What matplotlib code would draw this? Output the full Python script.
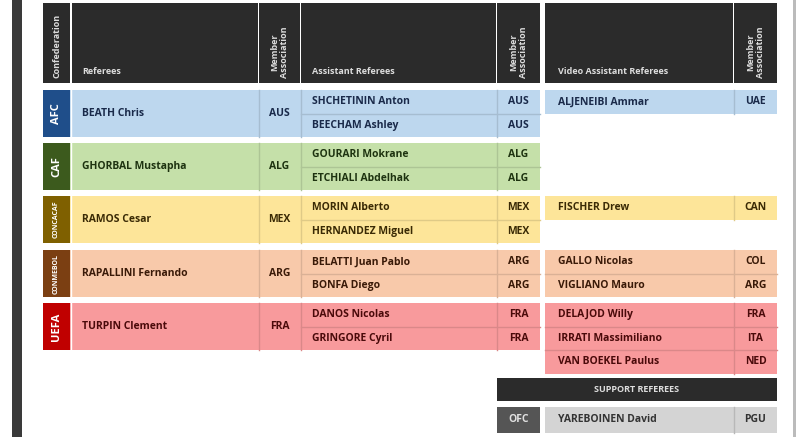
import matplotlib
matplotlib.use("Agg")
import matplotlib.pyplot as plt
from matplotlib.patches import Rectangle
import matplotlib.colors as mc

confeds = ["AFC", "CAF", "CONCACAF", "CONMEBOL", "UEFA"]
referees = ["BEATH Chris", "GHORBAL Mustapha", "RAMOS Cesar", "RAPALLINI Fernando", "TURPIN Clement"]
referee_ma = ["AUS", "ALG", "MEX", "ARG", "FRA"]
assistants = [["SHCHETININ Anton", "BEECHAM Ashley"], ["GOURARI Mokrane", "ETCHIALI Abdelhak"],
              ["MORIN Alberto", "HERNANDEZ Miguel"], ["BELATTI Juan Pablo", "BONFA Diego"],
              ["DANOS Nicolas", "GRINGORE Cyril"]]
assistant_ma = [["AUS", "AUS"], ["ALG", "ALG"], ["MEX", "MEX"], ["ARG", "ARG"], ["FRA", "FRA"]]
vars_ = [["ALJENEIBI Ammar"], [], ["FISCHER Drew"], ["GALLO Nicolas", "VIGLIANO Mauro"],
         ["DELAJOD Willy", "IRRATI Massimiliano", "VAN BOEKEL Paulus"]]
var_ma = [["UAE"], [], ["CAN"], ["COL", "ARG"], ["FRA", "ITA", "NED"]]
support_conf = "OFC"
support_name = "YAREBOINEN David"
support_ma = "PGU"

light = ["#bdd7ee", "#c5e0a9", "#fde599", "#f8c9aa", "#f89a9c"]
dark = ["#1f4e8a", "#3c5a1d", "#7f6000", "#7b3f12", "#c00000"]
txt = ["#1a2a4a", "#1e3310", "#3a2a05", "#3a1a08", "#4a0a0a"]
hdr = "#2b2b2b"

plt.rcParams["font.family"] = "Open Sans"
fig = plt.figure(figsize=(8, 4.37), dpi=100)
ax = fig.add_axes([0, 0, 1, 1])
ax.set_xlim(0, 800); ax.set_ylim(437, 0); ax.axis("off")

def shade(c, f=0.88):
    r, g, b = mc.to_rgb(c)
    return (r * f, g * f, b * f)

def box(x0, x1, y0, y1, c):
    ax.add_patch(Rectangle((x0, y0), x1 - x0, y1 - y0, fc=c, ec="none"))

def vline(x, y0, y1, c):
    ax.plot([x, x], [y0, y1], color=c, lw=1.0)

def hline(x0, x1, y, c):
    ax.plot([x0, x1], [y, y], color=c, lw=1.0)

def t(x, y, s, c="white", ha="left", fs=7.5, rot=0, va="center"):
    ax.text(x, y, s, color=c, ha=ha, va=va, fontsize=fs, fontweight="bold", rotation=rot)

box(12, 22, 0, 437, "#3a3a3a")
box(793, 796, 0, 437, "#bbbbbb")

cols = [(43, 70), (72, 258), (259, 300), (301, 496), (497, 540), (545, 733), (734, 777)]
for x0, x1 in cols:
    box(x0, x1, 3, 83, hdr)
hc = "#dddddd"
t(57, 78, "Confederation", c=hc, rot=90, va="bottom", ha="center", fs=6.5)
t(82, 72, "Referees", c=hc, fs=6.5)
t(279.5, 78, "Member\nAssociation", c=hc, rot=90, va="bottom", ha="center", fs=6.5)
t(312, 72, "Assistant Referees", c=hc, fs=6.5)
t(518.5, 78, "Member\nAssociation", c=hc, rot=90, va="bottom", ha="center", fs=6.5)
t(558, 72, "Video Assistant Referees", c=hc, fs=6.5)
t(755.5, 78, "Member\nAssociation", c=hc, rot=90, va="bottom", ha="center", fs=6.5)

tops = [90, 143, 196, 250, 303]
rh = 23.5
for i, top in enumerate(tops):
    bot = top + 2 * rh
    sc = shade(light[i])
    box(43, 70, top, bot, dark[i])
    fs = 8 if len(confeds[i]) <= 4 else 5
    t(56.5, (top + bot) / 2, confeds[i], rot=90, ha="center", fs=fs)
    box(70, 540, top, bot, light[i])
    vline(70.5, top, bot, "white")
    for x in (258.5, 300.5, 496.5):
        vline(x, top, bot, sc)
    hline(300.5, 540, top + rh, sc)
    t(82, (top + bot) / 2, referees[i], c=txt[i])
    t(279.5, (top + bot) / 2, referee_ma[i], c=txt[i], ha="center")
    for j, (n, m) in enumerate(zip(assistants[i], assistant_ma[i])):
        y0 = top + j * rh
        t(312, y0 + rh / 2, n, c=txt[i])
        t(518.5, y0 + rh / 2, m, c=txt[i], ha="center")
    k = len(vars_[i])
    if k:
        box(545, 777, top, top + k * rh, light[i])
        vline(733.5, top, top + k * rh, sc)
        for j in range(1, k):
            hline(545, 777, top + j * rh, sc)
    for j, (n, m) in enumerate(zip(vars_[i], var_ma[i])):
        y0 = top + j * rh
        t(558, y0 + rh / 2, n, c=txt[i])
        t(755.5, y0 + rh / 2, m, c=txt[i], ha="center")

box(497, 777, 378, 401, hdr)
t(637, 389.5, "SUPPORT REFEREES", c=hc, ha="center", fs=6.5)
box(497, 540, 407, 433, "#555555")
t(518.5, 420, support_conf, ha="center", fs=7.5, c="#e0e0e0")
box(545, 777, 407, 433, "#d4d4d4")
vline(733.5, 407, 433, "#b8b8b8")
t(558, 420, support_name, c="#333333")
t(755.5, 420, support_ma, c="#333333", ha="center")

fig.savefig("out.png", dpi=100)
